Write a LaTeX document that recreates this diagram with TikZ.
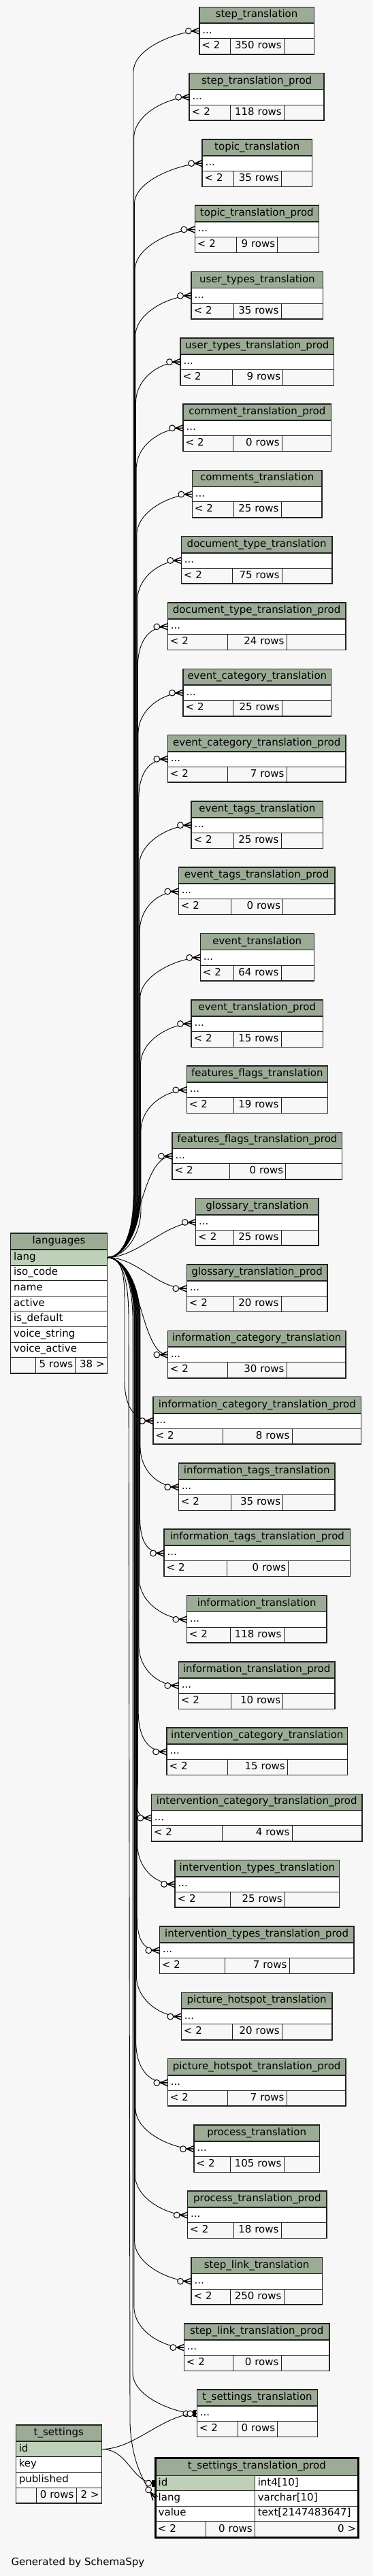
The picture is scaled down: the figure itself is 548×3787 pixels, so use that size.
\documentclass[tikz,border=0pt]{standalone}
\usepackage{fontspec}
\setmainfont{DejaVu Sans}
\usetikzlibrary{calc}
\definecolor{bgc}{HTML}{F7F7F7}
\definecolor{hdr}{HTML}{9BAB96}
\definecolor{pkc}{HTML}{BED1B8}
\definecolor{ln}{HTML}{222222}
\tikzset{
 cell/.style={draw=ln, line width=0.9pt, rectangle, outer sep=0pt, inner ysep=0pt, inner xsep=4.5pt, text height=10.5pt, text depth=3.5pt, font=\fontsize{15}{18}\selectfont},
 hcell/.style={cell, fill=hdr, inner xsep=2pt, align=center},
 wcell/.style={cell, fill=white, align=left},
 kcell/.style={cell, fill=pkc, align=left},
 fcell/.style={cell, fill=bgc, inner xsep=3.5pt},
 fk/.style={draw=black, line width=0.9pt},
 crowodot/.pic={
   \draw[line width=1.4pt, draw=black] (-11,0) -- (0,4.6) (-11,0) -- (0,0) (-11,0) -- (0,-4.6);
   \draw[line width=1pt, draw=black, fill=bgc] (-16,0) circle[radius=4.4pt];
 },
 teeodot/.pic={
   \fill[black] (-5,-5) rectangle (-1.5,5);
   \draw[line width=1pt, draw=black, fill=bgc] (-10,0) circle[radius=4.4pt];
 },
 endmark/.style={pos=1, sloped, allow upside down},
}
\newcommand\fkup[4]{\draw[fk] let \p1=(lang.east), \p2=(#1.west) in (\p1) .. controls (\x1+25pt,\y1) and (#2,\y1+0.45*#3pt) .. (#2,\y1+#3pt) -- (#2,\y2-#4pt) .. controls (#2,\y2-0.4*#4pt) and (\x2-30pt,\y2) .. (\p2) pic[endmark]{crowodot};}
\newcommand\fkdown[4]{\draw[fk] let \p1=(lang.east), \p2=(#1.west) in (\p1) .. controls (\x1+25pt,\y1) and (#2,\y1-0.45*#3pt) .. (#2,\y1-#3pt) -- (#2,\y2+#4pt) .. controls (#2,\y2+0.4*#4pt) and (\x2-30pt,\y2) .. (\p2) pic[endmark]{crowodot};}
\newcommand\fkdirect[3]{\draw[fk] (lang.east) .. controls +(#2,0) and +(-#3,0) .. (#1.west) pic[endmark]{crowodot};}
\begin{document}
\begin{tikzpicture}[x=1pt,y=-1pt]
\useasboundingbox (0,0) rectangle (548,3787);
\fill[bgc] (0,0) rectangle (548,3787);

% translation tables
\foreach \i/\tn/\nr/\xl/\xr/\cA/\cB in {
0/step\_translation/350/292.9/461.3/338.3/417.3,
1/step\_translation\_prod/118/278.2/476.0/338.3/417.3,
2/topic\_translation/35/297.1/458.5/343.9/413.5,
3/topic\_translation\_prod/9/286.3/468.3/347.7/407.7,
4/user\_types\_translation/35/281/474.7/343.7/413,
5/user\_types\_translation\_prod/9/265/490.7/341/415.7,
6/comment\_translation\_prod/0/269/486.7/342.3/414.3,
7/comments\_translation/25/282.3/473/343.7/413,
8/document\_type\_translation/75/266.3/488/341/414.3,
9/document\_type\_translation\_prod/24/246.3/508/334.3/421,
10/event\_category\_translation/25/269/486.7/342.3/414.3,
11/event\_category\_translation\_prod/7/246.3/508/334.3/421,
12/event\_tags\_translation/25/281/474.7/343.7/413,
13/event\_tags\_translation\_prod/0/262.3/492/339.7/415.7,
14/event\_translation/64/294.3/461.3/343.7/413,
15/event\_translation\_prod/15/281/474.7/343.7/413,
16/features\_flags\_translation/19/274.3/481.3/343.7/413,
17/features\_flags\_translation\_prod/0/253/502.7/337/419.7,
18/glossary\_translation/25/287.7/468/343.7/413,
19/glossary\_translation\_prod/20/274.3/481/343.7/413,
20/information\_category\_translation/30/246.3/508/334.3/421,
21/information\_category\_translation\_prod/8/225/530.7/327.7/429,
22/information\_tags\_translation/35/262.3/492/339.7/415.7,
23/information\_tags\_translation\_prod/0/241/514.7/333/423.7,
24/information\_translation/118/274.3/480/338.3/417,
25/information\_translation\_prod/10/262.3/492/339.7/415.7,
26/intervention\_category\_translation/15/245/510.7/334.3/422.3,
27/intervention\_category\_translation\_prod/4/222.3/532/326.3/429,
28/intervention\_types\_translation/25/257/498.7/338.3/418.3,
29/intervention\_types\_translation\_prod/7/234.3/520/330.3/425,
30/picture\_hotspot\_translation/20/266.3/488/341/414.3,
31/picture\_hotspot\_translation\_prod/7/246.3/508/334.3/421,
32/process\_translation/105/285/469.3/338.3/417,
33/process\_translation\_prod/18/275.7/480/343.7/413,
34/step\_link\_translation/250/281/473.3/338.3/417,
35/step\_link\_translation\_prod/0/270.3/484/342/413,
36/t\_settings\_translation/0/289.3/466.7/349/407.7}{
  \pgfmathsetmacro\ytop{10.3+97.3*\i}
  \pgfmathsetmacro\W{\xr-\xl}
  \pgfmathsetmacro\Wt{\W-9}
  \pgfmathsetmacro\wa{\cA-\xl-7}
  \pgfmathsetmacro\wb{\cB-\cA-7}
  \pgfmathsetmacro\wc{\xr-\cB}
  \node[hcell, anchor=north west, minimum width=\W pt, minimum height=24pt] (t\i-h) at (\xl,\ytop) {\tn};
  \node[wcell, anchor=north west, text width=\Wt pt, minimum height=22.5pt] (t\i-r) at (t\i-h.south west) {...};
  \node[fcell, anchor=north west, text width=\wa pt, align=left, minimum height=23pt] (t\i-f1) at (t\i-r.south west) {\mbox{< 2}};
  \node[fcell, anchor=north west, text width=\wb pt, align=right, minimum height=23pt] (t\i-f2) at (t\i-f1.north east) {\mbox{\nr{} rows}};
  \node[fcell, anchor=north west, minimum width=\wc pt, minimum height=23pt] (t\i-f3) at (t\i-f2.north east) {};
  \draw[line width=1.8pt, draw=ln] (t\i-h.south west) -- (t\i-h.south east);
  \draw[line width=1.5pt, draw=ln] (t\i-h.north west) rectangle (t\i-f3.south east);
}

% languages
\node[hcell, anchor=north west, minimum width=141.6pt, minimum height=24.3pt] (lh) at (15.7,1813) {languages};
\node[kcell, anchor=north west, text width=132.6pt, minimum height=22.63pt] (lang) at (lh.south west) {lang};
\node[wcell, anchor=north west, text width=132.6pt, minimum height=22.63pt] (liso) at (lang.south west) {iso\_code};
\node[wcell, anchor=north west, text width=132.6pt, minimum height=22.63pt] (lname) at (liso.south west) {name};
\node[wcell, anchor=north west, text width=132.6pt, minimum height=22.63pt] (lact) at (lname.south west) {active};
\node[wcell, anchor=north west, text width=132.6pt, minimum height=22.63pt] (ldef) at (lact.south west) {is\_default};
\node[wcell, anchor=north west, text width=132.6pt, minimum height=22.63pt] (lvs) at (ldef.south west) {voice\_string};
\node[wcell, anchor=north west, text width=132.6pt, minimum height=22.63pt] (lva) at (lvs.south west) {voice\_active};
\node[fcell, anchor=north west, minimum width=36.4pt, minimum height=23.4pt] (lf1) at (lva.south west) {};
\node[fcell, anchor=north west, text width=51.7pt, align=right, minimum height=23.4pt] (lf2) at (lf1.north east) {\mbox{5 rows}};
\node[fcell, anchor=north west, text width=39.5pt, align=right, minimum height=23.4pt] (lf3) at (lf2.north east) {\mbox{38 >}};
\draw[line width=1.8pt, draw=ln] (lh.south west) -- (lh.south east);
\draw[line width=1.5pt, draw=ln] (lh.north west) rectangle (lf3.south east);

% t_settings
\node[hcell, anchor=north west, minimum width=126pt, minimum height=24.3pt] (ts-h) at (23.3,3565) {t\_settings};
\node[kcell, anchor=north west, text width=117pt, minimum height=22.4pt] (ts-id) at (ts-h.south west) {id};
\node[wcell, anchor=north west, text width=117pt, minimum height=22.6pt] (ts-key) at (ts-id.south west) {key};
\node[wcell, anchor=north west, text width=117pt, minimum height=22.7pt] (ts-pub) at (ts-key.south west) {published};
\node[fcell, anchor=north west, minimum width=30pt, minimum height=23pt] (ts-f1) at (ts-pub.south west) {};
\node[fcell, anchor=north west, text width=51.7pt, align=right, minimum height=23pt] (ts-f2) at (ts-f1.north east) {\mbox{0 rows}};
\node[fcell, anchor=north west, text width=30.3pt, align=right, minimum height=23pt] (ts-f3) at (ts-f2.north east) {\mbox{2 >}};
\draw[line width=1.8pt, draw=ln] (ts-h.south west) -- (ts-h.south east);
\draw[line width=1.5pt, draw=ln] (ts-h.north west) rectangle (ts-f3.south east);

% t_settings_translation_prod
\node[hcell, anchor=north west, minimum width=298.5pt, minimum height=26pt] (tsp-h) at (228.2,3613.3) {t\_settings\_translation\_prod};
\node[kcell, anchor=north west, text width=137.1pt, minimum height=22.4pt] (tsp-id) at (tsp-h.south west) {id};
\node[wcell, anchor=north west, text width=143.4pt, minimum height=22.4pt] (tsp-idt) at (tsp-id.north east) {int4[10]};
\node[wcell, anchor=north west, text width=137.1pt, minimum height=22.3pt] (tsp-lang) at (tsp-id.south west) {lang};
\node[wcell, anchor=north west, text width=143.4pt, minimum height=22.3pt] (tsp-langt) at (tsp-lang.north east) {varchar[10]};
\node[wcell, anchor=north west, text width=137.1pt, minimum height=22.7pt] (tsp-val) at (tsp-lang.south west) {value};
\node[wcell, anchor=north west, text width=143.4pt, minimum height=22.7pt] (tsp-valt) at (tsp-val.north east) {text[2147483647]};
\node[fcell, anchor=north west, text width=67.5pt, align=left, minimum height=24pt] (tsp-f1) at (tsp-val.south west) {\mbox{< 2}};
\node[fcell, anchor=north west, text width=64.6pt, align=right, minimum height=24pt] (tsp-f2) at (tsp-f1.north east) {\mbox{0 rows}};
\node[fcell, anchor=north west, text width=145.4pt, align=right, minimum height=24pt] (tsp-f3) at (tsp-f2.north east) {\mbox{0 >}};
\draw[line width=3pt, draw=black] (tsp-h.north west) rectangle (tsp-f3.south east);

% connectors from languages.lang
\foreach \i in {0,...,15}{\pgfmathsetmacro\xv{196+0.7*\i}\fkup{t\i-r}{\xv}{90}{60}}
\fkup{t16-r}{207}{70}{60}
\fkdirect{t17-r}{50}{50}
\fkdirect{t18-r}{45}{45}
\fkdirect{t19-r}{45}{45}
\fkdirect{t20-r}{50}{40}
\fkdown{t21-r}{183}{70}{60}
\foreach \i in {22,...,35}{\pgfmathsetmacro\xv{206-0.7*(\i-22)}\fkdown{t\i-r}{\xv}{90}{60}}
\fkdown{t36-r}{195}{90}{60}
\draw[fk] let \p1=(lang.east), \p2=(tsp-lang.west) in (\p1) .. controls (\x1+25pt,\y1) and (189,\y1-40pt) .. (189,\y1-90pt) -- (191,\y2+110pt) .. controls (193,\y2+60pt) and (\x2-20pt,\y2+25pt) .. (\p2) pic[endmark]{crowodot};

% connectors from t_settings.id
\draw[fk] (ts-id.east) .. controls +(50,0) and +(-50,0) .. (t36-r.west) pic[endmark]{teeodot};
\draw[fk] (ts-id.east) .. controls +(40,0) and +(-35,0) .. (tsp-id.west) pic[endmark]{teeodot};

\node[anchor=west, inner sep=0pt, font=\fontsize{15}{18}\selectfont] (gen) at (16.4,3767) {Generated by SchemaSpy};
\end{tikzpicture}
\end{document}
